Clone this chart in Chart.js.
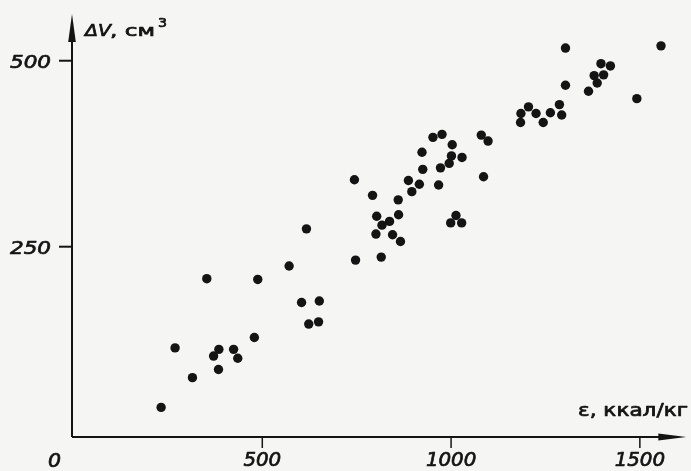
<!DOCTYPE html>
<html>
<head>
<meta charset="utf-8">
<script src="https://cdn.jsdelivr.net/npm/chart.js@4/dist/chart.umd.min.js"></script>
<style>
  html, body { margin: 0; padding: 0; background: #f5f5f4; }
  #wrap { width: 691px; height: 471px; }
</style>
</head>
<body>
<div id="wrap"><canvas id="myChart" width="691" height="471"></canvas></div>
<script>
// energy (kcal/kg) vs volume change (cm3)
const energy = [232, 269, 315, 353, 371, 385, 384, 424, 435, 479,
  488, 571, 604, 651, 623, 649, 617, 744, 747, 792,
  815, 803, 817, 801, 837, 845, 866, 861, 860, 887,
  896, 916, 925, 967, 972, 995, 952, 976, 1003, 923,
  1001, 1029, 1086, 1080, 1098, 1013, 999, 1028, 1205, 1185,
  1184, 1225, 1244, 1263, 1287, 1293, 1303, 1303, 1364, 1387,
  1379, 1404, 1397, 1422, 1492, 1556];
const volume = [34, 114, 74, 207, 103, 112, 85, 112, 100, 128,
  206, 224, 175, 177, 146, 149, 274, 340, 232, 319,
  236, 291, 279, 267, 284, 266, 257, 293, 313, 339,
  324, 334, 354, 333, 356, 362, 397, 401, 387, 377,
  372, 370, 344, 400, 392, 292, 282, 282, 438, 429,
  417, 429, 417, 430, 441, 427, 467, 517, 459, 470,
  480, 481, 496, 493, 449, 520];

const xTicks = [500, 1000, 1500];
const yTicks = [250, 500];
const xZeroLabel = "0";
const xTitle = "ε, ккал/кг";
const yTitle = ["ΔV", ", см", "3"];

const ink = "#141414";
const FONT = "'DejaVu Sans', sans-serif";

// draw text squeezed/stretched to a given width, a bit heavier like the scan
function stretchText(ctx, txt, x, y, w, font, baseline) {
  ctx.save();
  ctx.font = font;
  ctx.textBaseline = baseline || "alphabetic";
  const m = ctx.measureText(txt).width;
  ctx.translate(x, y);
  ctx.scale(w / m, 1);
  ctx.lineWidth = 0.7;
  ctx.lineJoin = "round";
  ctx.fillText(txt, 0, 0);
  ctx.strokeText(txt, 0, 0);
  ctx.restore();
}

const axesPlugin = {
  id: "axes",
  afterDatasetsDraw(chart) {
    const ctx = chart.ctx;
    const xs = chart.scales.x, ys = chart.scales.y;
    const a = chart.chartArea;
    const ox = a.left, oy = a.bottom;
    ctx.save();
    ctx.strokeStyle = ink;
    ctx.fillStyle = ink;
    ctx.lineWidth = 2;

    // y axis
    ctx.beginPath();
    ctx.moveTo(ox, oy);
    ctx.lineTo(ox, a.top + 20);
    ctx.stroke();
    ctx.beginPath();
    ctx.moveTo(ox, a.top);
    ctx.lineTo(ox - 3.8, a.top + 28);
    ctx.lineTo(ox + 3.8, a.top + 28);
    ctx.closePath();
    ctx.fill();

    // x axis
    ctx.beginPath();
    ctx.moveTo(ox, oy);
    ctx.lineTo(a.right - 20, oy);
    ctx.stroke();
    ctx.beginPath();
    ctx.moveTo(a.right, oy);
    ctx.lineTo(a.right - 28, oy - 3.6);
    ctx.lineTo(a.right - 28, oy + 3.6);
    ctx.closePath();
    ctx.fill();

    // y ticks and labels
    yTicks.forEach(v => {
      const py = ys.getPixelForValue(v);
      ctx.lineWidth = 2;
      ctx.beginPath();
      ctx.moveTo(ox - 13, py);
      ctx.lineTo(ox, py);
      ctx.stroke();
      stretchText(ctx, String(v), 10, py + 7, 41, "italic 18px " + FONT);
    });

    // x ticks and labels
    xTicks.forEach(v => {
      const px = xs.getPixelForValue(v);
      ctx.lineWidth = 1.5;
      ctx.beginPath();
      ctx.moveTo(px, oy);
      ctx.lineTo(px, oy + 11);
      ctx.stroke();
      const s = String(v);
      const w = s.length * 12.6;
      stretchText(ctx, s, px - w / 2, oy + 29, w, "italic 19px " + FONT);
    });
    stretchText(ctx, xZeroLabel, 48, oy + 30, 13, "italic 19px " + FONT);

    // axis titles
    stretchText(ctx, xTitle, 578, oy - 21, 110, "17px " + FONT);
    stretchText(ctx, yTitle[0], 85, 36, 26, "italic 16px " + FONT);
    stretchText(ctx, yTitle[1], 110, 36, 45, "16px " + FONT);
    stretchText(ctx, yTitle[2], 158, 27, 9, "12px " + FONT);
    ctx.restore();
  }
};

const points = energy.map((e, i) => ({ x: e, y: volume[i] }));

const myChart = new Chart(document.getElementById("myChart").getContext("2d"), {
  type: "scatter",
  data: {
    datasets: [{
      label: "ΔV",
      data: points,
      pointRadius: 4.7,
      pointHoverRadius: 4.7,
      backgroundColor: ink,
      borderColor: ink,
      borderWidth: 0
    }]
  },
  options: {
    responsive: false,
    animation: false,
    devicePixelRatio: 1,
    layout: { padding: { left: 72, right: 0, top: 14, bottom: 34 } },
    plugins: { legend: { display: false }, tooltip: { enabled: false } },
    scales: {
      x: { type: "linear", min: -4, max: 1623, display: false },
      y: { type: "linear", min: -5.8, max: 562.8, display: false }
    }
  },
  plugins: [axesPlugin]
});
</script>
</body>
</html>
